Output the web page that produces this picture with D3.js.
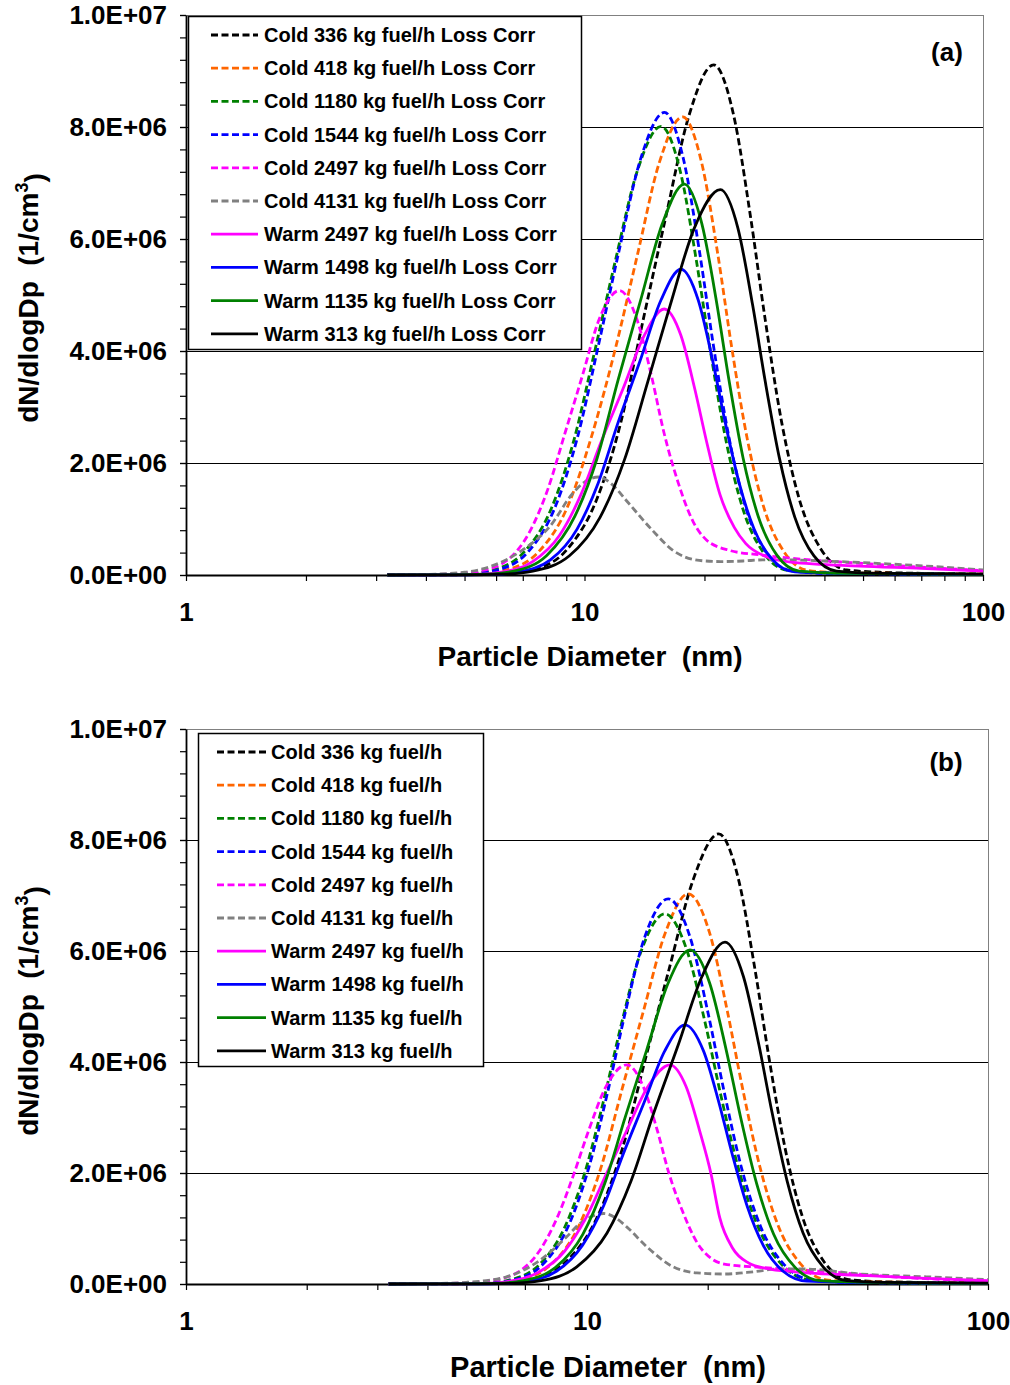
<!DOCTYPE html>
<html><head><meta charset="utf-8">
<script src="https://cdn.jsdelivr.net/npm/d3@7"></script>
<style>
body{margin:0;background:#fff}
svg{display:block}
text{font-family:Arial,"Liberation Sans",sans-serif;font-weight:bold;fill:#000;white-space:pre}
</style></head><body>
<svg id="c" width="1010" height="1385"></svg>
<script>
// ---------- labels ----------
const namesA = ["Cold 336 kg fuel/h Loss Corr","Cold 418 kg fuel/h Loss Corr","Cold 1180 kg fuel/h Loss Corr","Cold 1544 kg fuel/h Loss Corr","Cold 2497 kg fuel/h Loss Corr","Cold 4131 kg fuel/h Loss Corr","Warm 2497 kg fuel/h Loss Corr","Warm 1498 kg fuel/h Loss Corr","Warm 1135 kg fuel/h Loss Corr","Warm 313 kg fuel/h Loss Corr"];
const namesB = ["Cold 336 kg fuel/h","Cold 418 kg fuel/h","Cold 1180 kg fuel/h","Cold 1544 kg fuel/h","Cold 2497 kg fuel/h","Cold 4131 kg fuel/h","Warm 2497 kg fuel/h","Warm 1498 kg fuel/h","Warm 1135 kg fuel/h","Warm 313 kg fuel/h"];
const seriesColors = ["#000000","#FF6600","#008000","#0000FF","#FF00FF","#808080","#FF00FF","#0000FF","#008000","#000000"];
const seriesDashed = [true,true,true,true,true,true,false,false,false,false];
const yTickValues = [0,2e6,4e6,6e6,8e6,1e7];
const yTickLabels = ["0.0E+00","2.0E+06","4.0E+06","6.0E+06","8.0E+06","1.0E+07"];
const xTickValues = [1,10,100];
const xTickLabels = ["1","10","100"];
const xTitle = "Particle Diameter  (nm)";
const yTitleMain = "dN/dlogDp  (1/cm";

// ---------- data: [diameter nm, dN/dlogDp in 1e6 /cm3] ----------
// Panel (a) Loss corrected
const a_cold336 = [[3.2,0],[4.5,0.003],[6.24,0.02],[7.39,0.09],[9.05,0.46],[10.76,1.37],[12.34,2.73],[14.04,4.56],[15.98,6.38],[18.28,8.20],[21.1,9.11],[23.69,8.20],[26.12,6.38],[28.41,4.56],[31.24,2.73],[34.54,1.37],[39.21,0.46],[45.5,0.09],[55,0.05],[70,0.03],[100,0.02]];
const a_cold418 = [[3.2,0],[4.3,0.003],[5.30,0.016],[6.27,0.08],[7.66,0.41],[9.08,1.23],[10.39,2.45],[12.0,4.09],[13.59,5.73],[15.40,7.36],[17.63,8.18],[19.68,7.36],[21.60,5.73],[23.38,4.09],[25.58,2.45],[28.12,1.23],[31.70,0.41],[36.48,0.08],[45,0.04],[60,0.03],[100,0.02]];
const a_cold1180 = [[3.2,0],[4.0,0.003],[4.95,0.016],[5.81,0.08],[7.03,0.40],[8.27,1.20],[9.40,2.40],[10.62,4.01],[11.95,5.61],[13.56,7.21],[15.56,8.01],[17.39,7.21],[19.09,5.61],[20.69,4.01],[22.65,2.40],[24.92,1.20],[28.12,0.40],[32.42,0.08],[40,0.04],[55,0.03],[100,0.015]];
const a_cold1544 = [[3.2,0],[4.1,0.003],[5.09,0.017],[5.97,0.08],[7.21,0.41],[8.47,1.24],[9.62,2.48],[10.86,4.13],[12.20,5.78],[13.83,7.43],[15.87,8.26],[17.71,7.43],[19.43,5.78],[21.03,4.13],[23.01,2.48],[25.30,1.24],[28.52,0.41],[32.82,0.08],[40,0.03],[55,0.02],[100,0.01]];
const a_cold2497 = [[3.2,0],[4.0,0.005],[4.77,0.025],[5.44,0.07],[6.36,0.25],[7.27,0.76],[8.08,1.52],[8.94,2.54],[9.88,3.56],[10.89,4.57],[12.24,5.08],[13.53,4.57],[14.72,3.56],[15.83,2.54],[17.18,1.65],[18.74,0.95],[20.2,0.63],[23.1,0.44],[27.5,0.36],[33,0.30],[49,0.21],[70,0.14],[100,0.08]];
const a_cold4131 = [[3.2,0],[4.0,0.01],[5.0,0.05],[5.8,0.15],[7.0,0.45],[8.17,0.86],[9.35,1.46],[10.0,1.66],[10.84,1.75],[11.8,1.60],[12.7,1.34],[14.8,0.80],[16.6,0.45],[19.4,0.26],[22,0.24],[25,0.25],[28,0.27],[32,0.27],[40,0.25],[50,0.22],[72,0.16],[100,0.09]];
const a_warm2497 = [[3.2,0],[4.4,0.002],[5.30,0.01],[6.18,0.05],[7.41,0.24],[8.66,0.71],[9.79,1.43],[11.01,2.38],[12.50,3.33],[14.13,4.28],[15.86,4.75],[17.45,4.28],[18.90,3.33],[20.25,2.38],[21.89,1.43],[23.76,0.85],[25.4,0.56],[28.5,0.33],[33,0.23],[49,0.16],[70,0.12],[100,0.07]];
const a_warm1498 = [[3.2,0],[4.8,0.002],[5.89,0.011],[6.85,0.055],[8.21,0.27],[9.58,0.82],[10.82,1.64],[12.15,2.73],[13.78,3.82],[15.56,4.91],[17.47,5.46],[19.29,4.91],[20.98,3.82],[22.54,2.73],[24.45,1.64],[26.64,0.82],[29.68,0.27],[33.70,0.055],[45,0.03],[100,0.01]];
const a_warm1135 = [[3.2,0],[4.6,0.002],[5.67,0.014],[6.65,0.07],[8.04,0.35],[9.46,1.05],[10.76,2.09],[12.15,3.49],[13.81,4.89],[15.69,6.28],[17.81,6.98],[19.69,6.28],[21.43,4.89],[23.03,3.49],[25.00,2.09],[27.28,1.05],[30.42,0.35],[34.58,0.07],[45,0.03],[100,0.01]];
const a_warm313 = [[3.2,0],[5.0,0.003],[6.23,0.014],[7.42,0.07],[9.15,0.34],[10.94,1.03],[12.60,2.06],[14.40,3.44],[16.41,4.82],[18.85,6.19],[21.93,6.88],[24.27,6.19],[26.42,4.82],[28.44,3.44],[30.90,2.06],[33.72,1.03],[37.66,0.34],[42.89,0.07],[55,0.03],[100,0.015]];

// Panel (b) not loss corrected
const b_cold336 = [[3.2,0],[4.5,0.003],[6.05,0.016],[7.21,0.08],[8.89,0.41],[10.63,1.22],[12.24,2.43],[13.99,4.06],[16.03,5.68],[18.43,7.30],[21.30,8.11],[23.85,7.30],[26.22,5.68],[28.46,4.06],[31.22,2.43],[34.42,1.22],[38.93,0.41],[44.98,0.08],[55,0.04],[100,0.02]];
const b_cold418 = [[3.2,0],[4.4,0.003],[5.74,0.014],[6.73,0.07],[8.13,0.35],[9.55,1.05],[10.85,2.11],[12.24,3.52],[13.83,4.92],[15.68,6.33],[17.89,7.03],[20.21,6.33],[22.38,4.92],[24.44,3.52],[26.99,2.11],[29.98,1.05],[34.22,0.35],[39.97,0.07],[50,0.04],[100,0.02]];
const b_cold1180 = [[3.2,0],[4.2,0.003],[5.49,0.013],[6.35,0.067],[7.56,0.33],[8.77,1.00],[9.87,2.00],[11.03,3.34],[12.17,4.67],[13.65,6.00],[15.65,6.67],[17.77,6.00],[19.76,4.67],[21.66,3.34],[24.03,2.00],[26.81,1.00],[30.78,0.33],[36.2,0.067],[45,0.03],[100,0.01]];
const b_cold1544 = [[3.2,0],[4.3,0.003],[5.64,0.014],[6.52,0.07],[7.75,0.35],[8.98,1.04],[10.09,2.08],[11.27,3.47],[12.43,4.86],[13.93,6.25],[15.95,6.94],[18.07,6.25],[20.07,4.86],[21.97,3.47],[24.31,2.08],[27.08,1.04],[31.02,0.35],[36.39,0.07],[45,0.03],[100,0.01]];
const b_cold2497 = [[3.2,0],[4.0,0.005],[5.06,0.02],[5.74,0.06],[6.68,0.20],[7.60,0.59],[8.42,1.19],[9.27,1.98],[10.10,2.77],[11.16,3.56],[12.56,3.95],[13.81,3.56],[14.97,2.77],[16.03,1.98],[17.33,1.30],[18.8,0.75],[20.5,0.45],[22,0.36],[27,0.30],[40,0.22],[58,0.13],[100,0.05]];
const b_cold4131 = [[3.2,0],[4.0,0.005],[5.0,0.03],[6.3,0.13],[7.64,0.43],[8.9,0.85],[9.6,1.09],[10.3,1.22],[11.0,1.27],[11.8,1.19],[12.56,1.03],[14.1,0.67],[16.4,0.31],[18.8,0.20],[22,0.18],[26,0.22],[30,0.27],[35,0.27],[48,0.18],[70,0.13],[100,0.08]];
const b_warm2497 = [[3.2,0],[4.4,0.002],[5.38,0.008],[6.27,0.04],[7.52,0.20],[8.79,0.59],[9.94,1.19],[11.17,1.98],[12.57,2.77],[14.19,3.56],[16.11,3.95],[17.66,3.56],[19.08,2.77],[20.39,1.98],[21.44,1.19],[23.06,0.65],[25.27,0.38],[28,0.28],[33,0.22],[50,0.15],[70,0.10],[100,0.06]];
const b_warm1498 = [[3.2,0],[4.8,0.002],[6.06,0.009],[7.03,0.047],[8.39,0.23],[9.75,0.70],[10.99,1.40],[12.31,2.34],[13.88,3.27],[15.63,4.20],[17.56,4.67],[19.52,4.20],[21.33,3.27],[23.02,2.34],[25.09,1.40],[27.49,0.70],[30.84,0.23],[35.31,0.05],[45,0.03],[100,0.01]];
const b_warm1135 = [[3.2,0],[4.6,0.002],[5.94,0.012],[6.94,0.06],[8.35,0.30],[9.77,0.90],[11.07,1.81],[12.46,3.01],[14.08,4.21],[15.93,5.42],[18.07,6.02],[20.23,5.42],[22.25,4.21],[24.15,3.01],[26.49,1.81],[29.19,0.90],[33.03,0.30],[38.16,0.06],[50,0.03],[100,0.01]];
const b_warm313 = [[3.2,0],[5.0,0.003],[6.48,0.012],[7.69,0.06],[9.43,0.31],[11.22,0.92],[12.87,1.85],[14.67,3.08],[16.89,4.31],[19.35,5.54],[22.09,6.16],[24.55,5.54],[26.83,4.31],[28.96,3.08],[31.57,1.85],[34.58,0.92],[38.81,0.31],[44.42,0.06],[55,0.03],[100,0.015]];

const unit = 1e6;

// ---------- layout ----------
const panels = [
  {names:namesA, data:[a_cold336,a_cold418,a_cold1180,a_cold1544,a_cold2497,a_cold4131,a_warm2497,a_warm1498,a_warm1135,a_warm313],
   left:186,right:983,top:15,bottom:575, tag:"(a)", tagX:947, tagY:61,
   leg:{x0:188,x1:581,y0:16,y1:349,row0:35,step:33.2,l0:211,l1:258,tx:264},
   xt:{x:590,y:666,size:28}, yt:{x:38,y:298}},
  {names:namesB, data:[b_cold336,b_cold418,b_cold1180,b_cold1544,b_cold2497,b_cold4131,b_warm2497,b_warm1498,b_warm1135,b_warm313],
   left:186,right:988,top:729,bottom:1284, tag:"(b)", tagX:946, tagY:771,
   leg:{x0:198,x1:483,y0:733,y1:1066,row0:752,step:33.2,l0:217,l1:266,tx:271},
   xt:{x:608,y:1377,size:29}, yt:{x:38,y:1011}}
];

const svg = d3.select("#c");
svg.append("rect").attr("width",1010).attr("height",1385).attr("fill","#fff");
const crisp = v => Math.round(v) + 0.5;

panels.forEach(p=>{
  const x = d3.scaleLog().domain([1,100]).range([p.left,p.right]);
  const y = d3.scaleLinear().domain([0,1e7]).range([p.bottom,p.top]);
  const g = svg.append("g");

  // plot border
  g.append("rect").attr("x",p.left+0.5).attr("y",p.top+0.5).attr("width",p.right-p.left).attr("height",p.bottom-p.top)
    .attr("fill","none").attr("stroke","#808080").attr("stroke-width",1).attr("shape-rendering","crispEdges");

  // gridlines
  g.selectAll(".grid").data([2e6,4e6,6e6,8e6]).enter().append("line")
    .attr("x1",p.left).attr("x2",p.right).attr("y1",d=>crisp(y(d))).attr("y2",d=>crisp(y(d)))
    .attr("stroke","#000").attr("stroke-width",1).attr("shape-rendering","crispEdges");

  // minor ticks y
  const yMinor = d3.range(0,1e7+1,4e5);
  const yMinorAxis = d3.axisLeft(y).tickValues(yMinor).tickSize(6).tickFormat("").tickSizeOuter(0);
  g.append("g").attr("transform",`translate(${p.left},0)`).call(yMinorAxis)
    .call(s=>s.select(".domain").remove()).selectAll("line").attr("stroke","#000").attr("stroke-width",1.2);
  // major y axis
  const yAxis = d3.axisLeft(y).tickValues(yTickValues).tickSize(6).tickPadding(13).tickSizeOuter(0)
    .tickFormat((d,i)=>yTickLabels[i]);
  const ya = g.append("g").attr("transform",`translate(${p.left},0)`).call(yAxis);
  ya.select(".domain").attr("stroke","#000").attr("stroke-width",1.8);
  ya.selectAll("line").attr("stroke","#000").attr("stroke-width",1.2);
  ya.selectAll("text").style("font-size","26px").attr("font-family",null);

  // x axis minor
  const xMinor = [2,3,4,5,6,7,8,9,20,30,40,50,60,70,80,90];
  const xMinorAxis = d3.axisBottom(x).tickValues(xMinor).tickSize(6).tickFormat("").tickSizeOuter(0);
  g.append("g").attr("transform",`translate(0,${p.bottom})`).call(xMinorAxis)
    .call(s=>s.select(".domain").remove()).selectAll("line").attr("stroke","#000").attr("stroke-width",1.2);
  const xAxis = d3.axisBottom(x).tickValues(xTickValues).tickSize(6).tickPadding(22).tickSizeOuter(0)
    .tickFormat((d,i)=>xTickLabels[i]);
  const xa = g.append("g").attr("transform",`translate(0,${p.bottom})`).call(xAxis);
  xa.select(".domain").attr("stroke","#000").attr("stroke-width",1.8);
  xa.selectAll("line").attr("stroke","#000").attr("stroke-width",1.2);
  xa.selectAll("text").style("font-size","26px");

  // series
  const line = d3.line().x(d=>x(d[0])).y(d=>y(d[1]*unit)).curve(d3.curveMonotoneX);
  p.data.forEach((ser,i)=>{
    g.append("path").attr("d",line(ser)).attr("fill","none")
      .attr("stroke",seriesColors[i]).attr("stroke-width",2.8)
      .attr("stroke-dasharray",seriesDashed[i]?"7,3.5":null);
  });

  // legend
  const L = p.leg;
  g.append("rect").attr("x",L.x0+0.5).attr("y",L.y0+0.5).attr("width",L.x1-L.x0).attr("height",L.y1-L.y0)
    .attr("fill","#fff").attr("stroke","#000").attr("stroke-width",1.5);
  p.names.forEach((n,i)=>{
    const ry = L.row0 + i*L.step;
    g.append("line").attr("x1",L.l0).attr("x2",L.l1).attr("y1",ry).attr("y2",ry)
      .attr("stroke",seriesColors[i]).attr("stroke-width",2.8)
      .attr("stroke-dasharray",seriesDashed[i]?"7,3.5":null);
    g.append("text").attr("x",L.tx).attr("y",ry+7).style("font-size","20px").text(n);
  });

  // tag
  g.append("text").attr("x",p.tagX).attr("y",p.tagY).attr("text-anchor","middle").style("font-size","26px").text(p.tag);

  // x title
  g.append("text").attr("x",p.xt.x).attr("y",p.xt.y).attr("text-anchor","middle")
    .style("font-size",p.xt.size+"px").text(xTitle);

  // y title
  const yt = g.append("text").attr("transform",`translate(${p.yt.x},${p.yt.y}) rotate(-90)`)
    .attr("text-anchor","middle").style("font-size","28px");
  yt.append("tspan").text(yTitleMain);
  yt.append("tspan").attr("dy","-0.55em").style("font-size","18px").text("3");
  yt.append("tspan").attr("dy","0.55em").text(")");
});
</script>
</body></html>
